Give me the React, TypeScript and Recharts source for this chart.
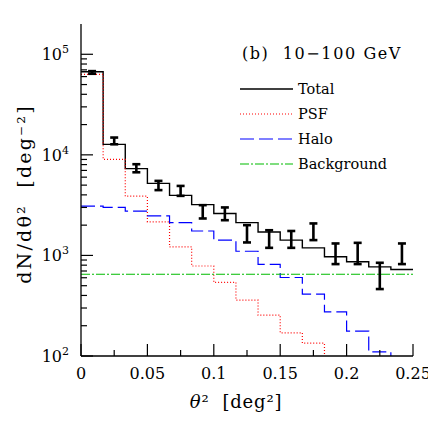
import { ComposedChart, Line, Scatter, ErrorBar, XAxis, YAxis, Legend } from "recharts";

// histogram bins (left edges), last edge closes the final bin
const binLeft = [0, 0.01667, 0.03333, 0.05, 0.06667, 0.08333, 0.1, 0.11667, 0.13333, 0.15, 0.16667, 0.18333, 0.2, 0.21667, 0.23333];
const binEnd = 0.25;

const total = [67000, 12700, 7300, 5200, 3950, 3200, 2610, 2120, 1710, 1420, 1190, 970, 865, 770, 725];
const psf = [63000, 9000, 3880, 2160, 1215, 785, 540, 360, 255, 170, 134, 45, 35, 12, 5];
const halo = [3090, 3000, 2760, 2470, 2120, 1750, 1420, 1100, 814, 603, 413, 275, 177, 110, 70];
const background = [650, 650, 650, 650, 650, 650, 650, 650, 650, 650, 650, 650, 650, 650, 650];

// measured points with error bars
const pointX = [0.00833, 0.025, 0.04167, 0.05833, 0.075, 0.09167, 0.10833, 0.125, 0.14167, 0.15833, 0.175, 0.19167, 0.20833, 0.225, 0.24167];
const pointY = [66000, 13750, 7360, 4880, 4360, 2710, 2590, 1640, 1460, 1450, 1710, 1040, 1046, 625, 1040];
const pointLo = [64000, 12730, 6710, 4460, 3910, 2330, 2240, 1346, 1190, 1190, 1420, 820, 820, 463, 820];
const pointHi = [68000, 14860, 8070, 5510, 4910, 3160, 3000, 2000, 1780, 1750, 2080, 1315, 1334, 845, 1315];

const xTicks = [0, 0.025, 0.05, 0.075, 0.1, 0.125, 0.15, 0.175, 0.2, 0.225, 0.25];
const yTicks = [
  100, 200, 300, 400, 500, 600, 700, 800, 900,
  1000, 2000, 3000, 4000, 5000, 6000, 7000, 8000, 9000,
  10000, 20000, 30000, 40000, 50000, 60000, 70000, 80000, 90000,
  100000,
];

const title = "(b)  10\u2212100 GeV";

const series = [
  { key: "total", name: "Total", color: "#000000", dash: undefined, width: 1.4 },
  { key: "psf", name: "PSF", color: "#ff0000", dash: "1 2", width: 1.2 },
  { key: "halo", name: "Halo", color: "#0000ff", dash: "14 5", width: 1.2 },
  { key: "bg", name: "Background", color: "#00bb00", dash: "9 2 2 2", width: 1.2 },
];

const rows = [
  ...binLeft.map((x, i) => ({ x, total: total[i], psf: psf[i], halo: halo[i], bg: background[i] })),
  {
    x: binEnd,
    total: total[total.length - 1],
    psf: psf[psf.length - 1],
    halo: halo[halo.length - 1],
    bg: background[background.length - 1],
  },
];

const points = pointX.map((x, i) => ({
  x,
  y: pointY[i],
  err: [pointY[i] - pointLo[i], pointHi[i] - pointY[i]],
}));

const FONT = "'DejaVu Serif', serif";

const isMajorX = (v: number) => Math.abs(v / 0.05 - Math.round(v / 0.05)) < 1e-6;
const isMajorY = (v: number) => Math.abs(Math.log10(v) - Math.round(Math.log10(v))) < 1e-6;

function BottomTick(props: any) {
  const { x, y, payload } = props;
  const major = isMajorX(payload.value);
  return (
    <g>
      <line x1={x} x2={x} y1={y} y2={y - (major ? 12 : 6)} stroke="#000" strokeWidth={1.2} />
      {major && (
        <text x={x} y={y + 23} textAnchor="middle" fontFamily={FONT} fontSize={16} fill="#000">
          {String(Number(payload.value.toFixed(3)))}
        </text>
      )}
    </g>
  );
}

function TopTick(props: any) {
  const { x, y, payload } = props;
  const major = isMajorX(payload.value);
  return <line x1={x} x2={x} y1={y} y2={y + (major ? 12 : 6)} stroke="#000" strokeWidth={1.2} />;
}

function LeftTick(props: any) {
  const { x, y, payload } = props;
  const major = isMajorY(payload.value);
  const exp = Math.round(Math.log10(payload.value));
  return (
    <g>
      <line x1={x} x2={x + (major ? 12 : 6)} y1={y} y2={y} stroke="#000" strokeWidth={1.2} />
      {major && (
        <text x={x - 12} y={y + 6} textAnchor="end" fontFamily={FONT} fontSize={16} fill="#000">
          10
          <tspan dy={-7} fontSize={11}>
            {exp}
          </tspan>
        </text>
      )}
    </g>
  );
}

function RightTick(props: any) {
  const { x, y, payload } = props;
  const major = isMajorY(payload.value);
  return <line x1={x} x2={x - (major ? 12 : 6)} y1={y} y2={y} stroke="#000" strokeWidth={1.2} />;
}

function LegendBox() {
  return (
    <svg width={200} height={150} style={{ display: "block" }}>
      <text
        x={184}
        y={35}
        textAnchor="end"
        fontFamily={FONT}
        fontSize={16}
        letterSpacing={1.6}
        fill="#000"
        style={{ whiteSpace: "pre" }}
      >
        {title}
      </text>
      {series.map((s, i) => (
        <g key={s.key}>
          <line
            x1={22}
            x2={75}
            y1={65 + i * 25}
            y2={65 + i * 25}
            stroke={s.color}
            strokeWidth={s.width}
            strokeDasharray={s.dash}
          />
          <text x={80} y={70 + i * 25} fontFamily={FONT} fontSize={14.5} fill="#000">
            {s.name}
          </text>
        </g>
      ))}
    </svg>
  );
}

export default function App() {
  return (
    <div style={{ width: 428, height: 428, background: "#fff" }}>
      <ComposedChart width={428} height={428} margin={{ top: 16, right: 23, bottom: 20, left: 0 }}>
        <XAxis
          dataKey="x"
          type="number"
          domain={[0, 0.25]}
          allowDataOverflow
          ticks={xTicks}
          interval={0}
          height={60}
          tickSize={0}
          tickMargin={0}
          tickLine={false}
          axisLine={{ stroke: "#000", strokeWidth: 1.3 }}
          tick={(p: any) => <BottomTick {...p} />}
          label={{
            content: ({ viewBox }: any) => (
              <text
                x={viewBox.x + viewBox.width / 2 - 11}
                y={viewBox.y + 52}
                textAnchor="middle"
                fontFamily={FONT}
                fontSize={18}
                fill="#000"
                letterSpacing={0.8}
                style={{ whiteSpace: "pre" }}
              >
                <tspan fontStyle="italic">θ</tspan>
                {"²  [deg²]"}
              </text>
            ),
          }}
        />
        <XAxis
          xAxisId="top"
          orientation="top"
          type="number"
          domain={[0, 0.25]}
          allowDataOverflow
          ticks={xTicks}
          interval={0}
          height={0}
          tickSize={0}
          tickMargin={0}
          tickLine={false}
          axisLine={{ stroke: "#000", strokeWidth: 1.3 }}
          tick={(p: any) => <TopTick {...p} />}
        />
        <YAxis
          dataKey="y"
          type="number"
          scale="log"
          domain={[100, 200000]}
          allowDataOverflow
          ticks={yTicks}
          interval={0}
          width={73}
          tickSize={0}
          tickMargin={0}
          tickLine={false}
          axisLine={{ stroke: "#000", strokeWidth: 1.3 }}
          tick={(p: any) => <LeftTick {...p} />}
          label={{
            content: ({ viewBox }: any) => {
              const cx = viewBox.x + 16;
              const cy = viewBox.y + viewBox.height / 2 + 4;
              return (
                <text
                  x={cx}
                  y={cy}
                  transform={`rotate(-90 ${cx} ${cy})`}
                  textAnchor="middle"
                  dominantBaseline="central"
                  fontFamily={FONT}
                  fontSize={19}
                  letterSpacing={2.2}
                  fill="#000"
                  style={{ whiteSpace: "pre" }}
                >
                  {"dN/dθ²  [deg⁻²]"}
                </text>
              );
            },
          }}
        />
        <YAxis
          yAxisId="right"
          orientation="right"
          type="number"
          scale="log"
          domain={[100, 200000]}
          allowDataOverflow
          ticks={yTicks}
          interval={0}
          width={0}
          tickSize={0}
          tickMargin={0}
          tickLine={false}
          axisLine={{ stroke: "#000", strokeWidth: 1.3 }}
          tick={(p: any) => <RightTick {...p} />}
        />
        {series.map((s) => (
          <Line
            key={s.key}
            data={rows}
            dataKey={s.key}
            name={s.name}
            type="stepAfter"
            stroke={s.color}
            strokeWidth={s.width}
            strokeDasharray={s.dash}
            dot={false}
            activeDot={false}
            isAnimationActive={false}
          />
        ))}
        <Scatter
          data={points}
          dataKey="y"
          legendType="none"
          shape={() => <g />}
          isAnimationActive={false}
        >
          <ErrorBar dataKey="err" direction="y" width={4} strokeWidth={2.6} stroke="#000" isAnimationActive={false} />
        </Scatter>
        <Legend
          layout="horizontal"
          verticalAlign="middle"
          align="center"
          wrapperStyle={{ position: "absolute", top: 16, left: 210, width: 200 }}
          content={() => <LegendBox />}
        />
      </ComposedChart>
    </div>
  );
}
